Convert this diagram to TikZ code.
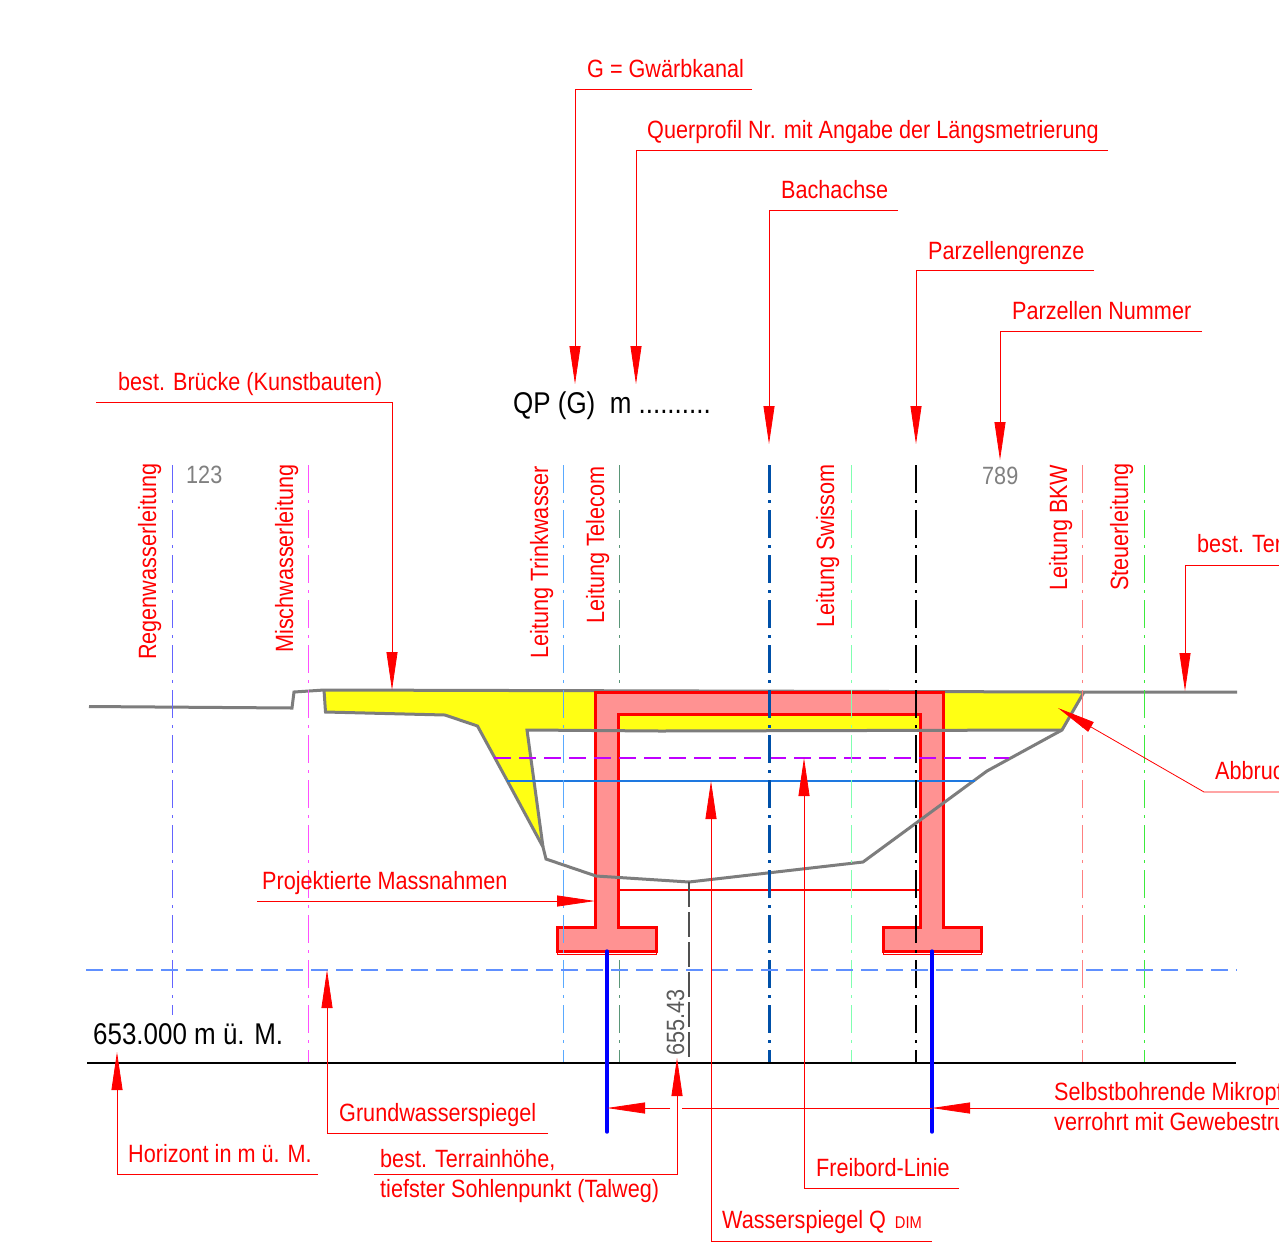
\documentclass[tikz,border=0pt]{standalone}
\usepackage{fontspec}
\setmainfont[FakeStretch=0.865]{Liberation Sans}
\usetikzlibrary{arrows.meta}
\definecolor{rd}{RGB}{255,0,0}
\definecolor{pinkfill}{RGB}{255,146,146}
\definecolor{yel}{RGB}{255,255,20}
\definecolor{gr}{RGB}{125,125,125}
\tikzset{
  lbl/.style={text=rd,font=\fontsize{25}{30}\selectfont,anchor=base west,inner sep=0pt},
  vlbl/.style={lbl,rotate=90},
  lead/.style={draw=rd,line width=0.8pt,-{Triangle[length=38pt,width=11pt,fill=rd]}},
  plain/.style={draw=rd,line width=0.8pt},
  util/.style={line width=0.8pt,dash pattern=on 28pt off 7pt on 3pt off 7pt},
  terr/.style={draw=gr,line width=3pt,line join=miter},
  blk/.style={text=black,font=\fontsize{30}{36}\selectfont,anchor=base west,inner sep=0pt},
  gry/.style={text=gray,font=\fontsize{25}{30}\selectfont,anchor=base west,inner sep=0pt},
  pile/.style={draw=blue,line width=3.4pt,line cap=round},
}
\begin{document}
\begin{tikzpicture}[x=1pt,y=-1pt]
\useasboundingbox (0,0) rectangle (1279,1259);
\clip (0,0) rectangle (1279,1259);
\fill[white] (0,0) rectangle (1279,1259);
% fill
\fill[yel] (324,690) -- (1084,692) -- (1062,730) -- (527,730) -- (543,847) -- (508,783) -- (477,726) -- (445,715) -- (325,712) -- cycle;
% line hidden by the wall
\draw[util,draw={rgb,255:red,90;green,150;blue,120}] (619,465) -- (619,1063);
% top terrain, beneath the structure
\draw[terr] (89,706.5) -- (292,708) -- (294,692) -- (324,690) -- (1084,692) -- (1237,692);
% structure
\filldraw[draw=rd,fill=pinkfill,line width=3pt] (557,927) -- (595,927) -- (595,692) -- (943,692) -- (943,927) -- (981,927) -- (981,951) -- (883,951) -- (883,927) -- (920,927) -- (920,714) -- (618,714) -- (618,927) -- (656,927) -- (656,951) -- (557,951) -- cycle;
\draw[rd,line width=1pt] (557,951) rectangle (656,954);
\draw[rd,line width=1pt] (883,951) rectangle (981,954);
\draw[rd,line width=2.2pt] (618,890) -- (920,890);
% terrain
\draw[terr] (324,690) -- (325.5,712) -- (445,715) -- (477.5,726) -- (508.5,783) -- (543,847) -- (546,859) -- (596,876) -- (689,882) -- (863,862) -- (987,771) -- (1062,730) -- (1084,692);
\draw[terr] (543,847) -- (527,730) -- (660,731) -- (1062,730);
% water
\draw[draw={rgb,255:red,191;green,0;blue,255},line width=1.2pt,dash pattern=on 17pt off 8pt] (494,758) -- (1009,758);
\draw[draw={rgb,255:red,30;green,120;blue,224},line width=1.5pt] (507,781) -- (975,781);
% utilities
\draw[util,draw={rgb,255:red,100;green,100;blue,255}] (172,465) -- (172,1015);
\draw[util,draw={rgb,255:red,255;green,80;blue,255}] (308,465) -- (308,1063);
\draw[util,draw={rgb,255:red,90;green,170;blue,255}] (563,465) -- (563,1063);
\draw[util,draw={rgb,255:red,128;green,255;blue,176}] (851,465) -- (851,1063);
\draw[util,draw=black,line width=1.1pt] (916,465) -- (916,1063);
\draw[util,draw={rgb,255:red,255;green,128;blue,128}] (1082,465) -- (1082,1063);
\draw[util,draw={rgb,255:red,60;green,235;blue,60}] (1144,465) -- (1144,1063);
\draw[util,draw={rgb,255:red,0;green,80;blue,168},line width=3pt] (769,465) -- (769,1063);
\draw[draw={rgb,255:red,80;green,80;blue,80},line width=1.1pt,dash pattern=on 25pt off 5pt] (689,882) -- (689,1063);
% levels
\draw[draw={rgb,255:red,96;green,144;blue,255},line width=1.6pt,dash pattern=on 17pt off 8pt] (86,970) -- (1237,970);
\draw[black,line width=1.1pt] (87,1063) -- (1236,1063);
% piles
\draw[pile] (607,951) -- (607,1132);
\draw[pile] (932,951) -- (932,1132);
% texts
\node[lbl] (tG) at (587,77) {G = Gwärbkanal};
\node[lbl] (tQ) at (647,138) {Querprofil Nr. mit Angabe der Längsmetrierung};
\node[lbl] (tB) at (781,198) {Bachachse};
\node[lbl] (tPG) at (928,259) {Parzellengrenze};
\node[lbl] (tPN) at (1012,319) {Parzellen Nummer};
\node[lbl] (tBr) at (118,390) {best. Brücke (Kunstbauten)};
\node[lbl] (tT) at (1197,552) {best. Terrainlinie};
\node[lbl] (tA) at (1215,779) {Abbruch};
\node[lbl] (tM) at (262,889) {Projektierte Massnahmen};
\node[lbl] (tGW) at (339,1121) {Grundwasserspiegel};
\node[lbl] (tH) at (128,1162) {Horizont in m ü. M.};
\node[lbl] (tTH) at (380,1167) {best. Terrainhöhe,};
\node[lbl] (tTS) at (380,1197) {tiefster Sohlenpunkt (Talweg)};
\node[lbl] (tW) at (722,1228) {Wasserspiegel Q {\fontsize{17}{20}\selectfont\,DIM}};
\node[lbl] (tF) at (816,1176) {Freibord-Linie};
\node[lbl] (tS1) at (1054,1100) {Selbstbohrende Mikropfähle,};
\node[lbl] (tS2) at (1054,1130) {verrohrt mit Gewebestrumpf};
\node[vlbl] (vR) at (156,660) {Regenwasserleitung};
\node[vlbl] (vM) at (293,653) {Mischwasserleitung};
\node[vlbl] (vT) at (548,659) {Leitung Trinkwasser};
\node[vlbl] (vTe) at (604,624) {Leitung Telecom};
\node[vlbl] (vS) at (834,628) {Leitung Swissom};
\node[vlbl] (vB) at (1067,591) {Leitung BKW};
\node[vlbl] (vSt) at (1128,591) {Steuerleitung};
\node[blk] (qp) at (513,413) {QP (G)\ \ m ..........};
\node[blk] (hz) at (93,1044) {653.000 m ü. M.};
\node[gry] (n1) at (186,483) {123};
\node[gry] (n2) at (982,484) {789};
\node[gry,rotate=90,text={rgb,255:red,90;green,90;blue,90}] (n3) at (684,1056) {655.43};
% leaders
\coordinate (a1) at (752,89); \coordinate (a2) at (575,89); \coordinate (a3) at (575,384);
\draw[lead] (a1) -- (a2) -- (a3);
\coordinate (b1) at (1108,150); \coordinate (b2) at (636,150); \coordinate (b3) at (636,384);
\draw[lead] (b1) -- (b2) -- (b3);
\coordinate (c1) at (898,210); \coordinate (c2) at (769,210); \coordinate (c3) at (769,444);
\draw[lead] (c1) -- (c2) -- (c3);
\coordinate (d1) at (1094,270); \coordinate (d2) at (916,270); \coordinate (d3) at (916,444);
\draw[lead] (d1) -- (d2) -- (d3);
\coordinate (e1) at (1202,331); \coordinate (e2) at (1000,331); \coordinate (e3) at (1000,460);
\draw[lead] (e1) -- (e2) -- (e3);
\coordinate (f1) at (96,402); \coordinate (f2) at (392,402); \coordinate (f3) at (392,690);
\draw[lead] (f1) -- (f2) -- (f3);
\coordinate (g1) at (1279,565); \coordinate (g2) at (1185,565); \coordinate (g3) at (1185,691);
\draw[lead] (g1) -- (g2) -- (g3);
\coordinate (h1) at (1279,792); \coordinate (h2) at (1204,792); \coordinate (h3) at (1058,708);
\draw[lead] (h1) -- (h2) -- (h3);
\coordinate (i1) at (257,901); \coordinate (i3) at (595,901);
\draw[lead] (i1) -- (i3);
\coordinate (j1) at (548,1133); \coordinate (j2) at (327,1133); \coordinate (j3) at (327,970);
\draw[lead] (j1) -- (j2) -- (j3);
\coordinate (k1) at (318,1174); \coordinate (k2) at (117,1174); \coordinate (k3) at (117,1052);
\draw[lead] (k1) -- (k2) -- (k3);
\coordinate (l1) at (374,1174); \coordinate (l2) at (677,1174); \coordinate (l3) at (677,1058);
\draw[lead] (l1) -- (l2) -- (l3);
\coordinate (m1) at (932,1241); \coordinate (m2) at (711,1241); \coordinate (m3) at (711,781);
\draw[lead] (m1) -- (m2) -- (m3);
\coordinate (n1c) at (959,1188); \coordinate (n2c) at (804,1188); \coordinate (n3c) at (804,758);
\draw[lead] (n1c) -- (n2c) -- (n3c);
\coordinate (o1) at (1279,1108); \coordinate (o2) at (932,1108); \coordinate (o3) at (682,1108);
\draw[lead] (o1) -- (o2);
\draw[plain] (o2) -- (o3);
\coordinate (p1) at (670,1108); \coordinate (p2) at (607,1108);
\draw[lead] (p1) -- (p2);
\end{tikzpicture}
\end{document}
